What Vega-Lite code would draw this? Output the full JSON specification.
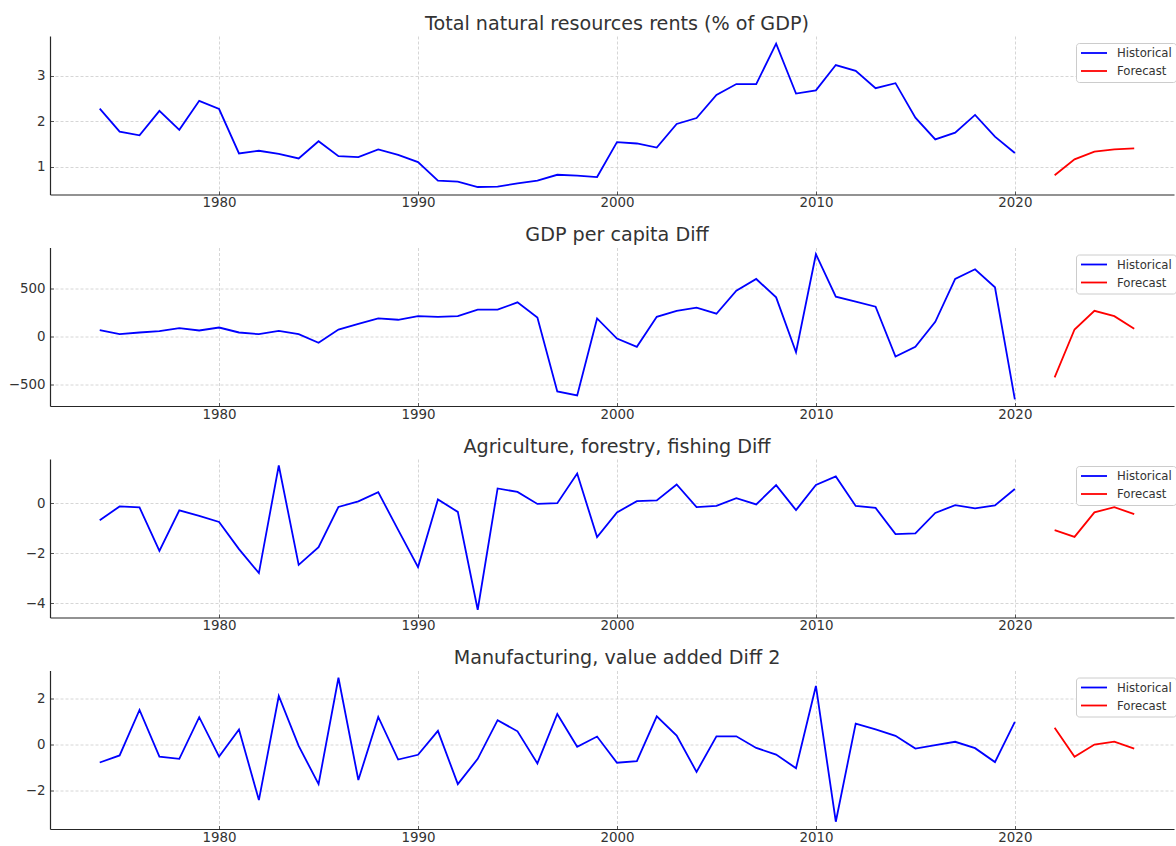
{
  "$schema": "https://vega.github.io/schema/vega-lite/v6.json",
  "padding": {"left": 8, "top": 14, "right": 0, "bottom": 0},
  "background": "white",
  "spacing": 52.5,
  "bounds": "flush",
  "resolve": {"legend": {"color": "independent"}},
  "config": {
    "view": {"stroke": null},
    "font": "DejaVu Sans",
    "axis": {
      "labelFont": "DejaVu Sans",
      "labelFontSize": 13.4,
      "labelColor": "#333333",
      "labelPadding": 8.5,
      "ticks": true,
      "tickSize": -3.5,
      "tickColor": "#555555",
      "tickWidth": 1,
      "domainColor": "#262626",
      "domainWidth": 1.2,
      "gridColor": "#cccccc",
      "gridDash": [3, 2],
      "gridWidth": 0.8,
      "title": null
    },
    "axisX": {"labelPadding": 4.8},
    "title": {
      "font": "DejaVu Sans",
      "fontSize": 19.15,
      "fontWeight": "normal",
      "color": "#333333",
      "anchor": "middle",
      "offset": 2,
      "dx": 5
    },
    "legend": {
      "orient": "none",
      "legendX": 1026,
      "legendY": 7,
      "title": null,
      "labelFont": "DejaVu Sans",
      "labelFontSize": 11.7,
      "labelColor": "#333333",
      "symbolType": "M-2.6,0H2.6",
      "symbolSize": 100,
      "symbolOffset": 8,
      "labelOffset": 17,
      "symbolStrokeWidth": 2,
      "strokeColor": "#cccccc",
      "fillColor": "white",
      "cornerRadius": 3,
      "padding": 4,
      "rowPadding": 5
    },
    "line": {"strokeWidth": 1.8}
  },
  "datasets": {
    "p1": [
      {"year": 1974, "value": 2.28, "series": "Historical"},
      {"year": 1975, "value": 1.77, "series": "Historical"},
      {"year": 1976, "value": 1.69, "series": "Historical"},
      {"year": 1977, "value": 2.23, "series": "Historical"},
      {"year": 1978, "value": 1.81, "series": "Historical"},
      {"year": 1979, "value": 2.45, "series": "Historical"},
      {"year": 1980, "value": 2.27, "series": "Historical"},
      {"year": 1981, "value": 1.29, "series": "Historical"},
      {"year": 1982, "value": 1.35, "series": "Historical"},
      {"year": 1983, "value": 1.28, "series": "Historical"},
      {"year": 1984, "value": 1.18, "series": "Historical"},
      {"year": 1985, "value": 1.56, "series": "Historical"},
      {"year": 1986, "value": 1.23, "series": "Historical"},
      {"year": 1987, "value": 1.21, "series": "Historical"},
      {"year": 1988, "value": 1.38, "series": "Historical"},
      {"year": 1989, "value": 1.26, "series": "Historical"},
      {"year": 1990, "value": 1.10, "series": "Historical"},
      {"year": 1991, "value": 0.69, "series": "Historical"},
      {"year": 1992, "value": 0.67, "series": "Historical"},
      {"year": 1993, "value": 0.55, "series": "Historical"},
      {"year": 1994, "value": 0.56, "series": "Historical"},
      {"year": 1995, "value": 0.63, "series": "Historical"},
      {"year": 1996, "value": 0.69, "series": "Historical"},
      {"year": 1997, "value": 0.82, "series": "Historical"},
      {"year": 1998, "value": 0.80, "series": "Historical"},
      {"year": 1999, "value": 0.77, "series": "Historical"},
      {"year": 2000, "value": 1.54, "series": "Historical"},
      {"year": 2001, "value": 1.51, "series": "Historical"},
      {"year": 2002, "value": 1.42, "series": "Historical"},
      {"year": 2003, "value": 1.94, "series": "Historical"},
      {"year": 2004, "value": 2.07, "series": "Historical"},
      {"year": 2005, "value": 2.58, "series": "Historical"},
      {"year": 2006, "value": 2.82, "series": "Historical"},
      {"year": 2007, "value": 2.82, "series": "Historical"},
      {"year": 2008, "value": 3.71, "series": "Historical"},
      {"year": 2009, "value": 2.61, "series": "Historical"},
      {"year": 2010, "value": 2.68, "series": "Historical"},
      {"year": 2011, "value": 3.24, "series": "Historical"},
      {"year": 2012, "value": 3.11, "series": "Historical"},
      {"year": 2013, "value": 2.73, "series": "Historical"},
      {"year": 2014, "value": 2.84, "series": "Historical"},
      {"year": 2015, "value": 2.08, "series": "Historical"},
      {"year": 2016, "value": 1.60, "series": "Historical"},
      {"year": 2017, "value": 1.75, "series": "Historical"},
      {"year": 2018, "value": 2.14, "series": "Historical"},
      {"year": 2019, "value": 1.66, "series": "Historical"},
      {"year": 2020, "value": 1.30, "series": "Historical"},
      {"year": 2022, "value": 0.81, "series": "Forecast"},
      {"year": 2023, "value": 1.16, "series": "Forecast"},
      {"year": 2024, "value": 1.33, "series": "Forecast"},
      {"year": 2025, "value": 1.38, "series": "Forecast"},
      {"year": 2026, "value": 1.40, "series": "Forecast"}
    ],
    "p2": [
      {"year": 1974, "value": 66, "series": "Historical"},
      {"year": 1975, "value": 24, "series": "Historical"},
      {"year": 1976, "value": 42, "series": "Historical"},
      {"year": 1977, "value": 56, "series": "Historical"},
      {"year": 1978, "value": 87, "series": "Historical"},
      {"year": 1979, "value": 63, "series": "Historical"},
      {"year": 1980, "value": 94, "series": "Historical"},
      {"year": 1981, "value": 42, "series": "Historical"},
      {"year": 1982, "value": 24, "series": "Historical"},
      {"year": 1983, "value": 59, "series": "Historical"},
      {"year": 1984, "value": 24, "series": "Historical"},
      {"year": 1985, "value": -66, "series": "Historical"},
      {"year": 1986, "value": 73, "series": "Historical"},
      {"year": 1987, "value": 133, "series": "Historical"},
      {"year": 1988, "value": 189, "series": "Historical"},
      {"year": 1989, "value": 175, "series": "Historical"},
      {"year": 1990, "value": 213, "series": "Historical"},
      {"year": 1991, "value": 206, "series": "Historical"},
      {"year": 1992, "value": 213, "series": "Historical"},
      {"year": 1993, "value": 280, "series": "Historical"},
      {"year": 1994, "value": 280, "series": "Historical"},
      {"year": 1995, "value": 357, "series": "Historical"},
      {"year": 1996, "value": 199, "series": "Historical"},
      {"year": 1997, "value": -574, "series": "Historical"},
      {"year": 1998, "value": -616, "series": "Historical"},
      {"year": 1999, "value": 189, "series": "Historical"},
      {"year": 2000, "value": -21, "series": "Historical"},
      {"year": 2001, "value": -108, "series": "Historical"},
      {"year": 2002, "value": 206, "series": "Historical"},
      {"year": 2003, "value": 269, "series": "Historical"},
      {"year": 2004, "value": 301, "series": "Historical"},
      {"year": 2005, "value": 238, "series": "Historical"},
      {"year": 2006, "value": 479, "series": "Historical"},
      {"year": 2007, "value": 601, "series": "Historical"},
      {"year": 2008, "value": 409, "series": "Historical"},
      {"year": 2009, "value": -164, "series": "Historical"},
      {"year": 2010, "value": 860, "series": "Historical"},
      {"year": 2011, "value": 416, "series": "Historical"},
      {"year": 2012, "value": 364, "series": "Historical"},
      {"year": 2013, "value": 311, "series": "Historical"},
      {"year": 2014, "value": -210, "series": "Historical"},
      {"year": 2015, "value": -108, "series": "Historical"},
      {"year": 2016, "value": 154, "series": "Historical"},
      {"year": 2017, "value": 601, "series": "Historical"},
      {"year": 2018, "value": 703, "series": "Historical"},
      {"year": 2019, "value": 514, "series": "Historical"},
      {"year": 2020, "value": -657, "series": "Historical"},
      {"year": 2022, "value": -427, "series": "Forecast"},
      {"year": 2023, "value": 73, "series": "Forecast"},
      {"year": 2024, "value": 269, "series": "Forecast"},
      {"year": 2025, "value": 213, "series": "Forecast"},
      {"year": 2026, "value": 80, "series": "Forecast"}
    ],
    "p3": [
      {"year": 1974, "value": -0.68, "series": "Historical"},
      {"year": 1975, "value": -0.13, "series": "Historical"},
      {"year": 1976, "value": -0.17, "series": "Historical"},
      {"year": 1977, "value": -1.91, "series": "Historical"},
      {"year": 1978, "value": -0.29, "series": "Historical"},
      {"year": 1979, "value": -0.51, "series": "Historical"},
      {"year": 1980, "value": -0.75, "series": "Historical"},
      {"year": 1981, "value": -1.84, "series": "Historical"},
      {"year": 1982, "value": -2.80, "series": "Historical"},
      {"year": 1983, "value": 1.51, "series": "Historical"},
      {"year": 1984, "value": -2.47, "series": "Historical"},
      {"year": 1985, "value": -1.76, "series": "Historical"},
      {"year": 1986, "value": -0.15, "series": "Historical"},
      {"year": 1987, "value": 0.07, "series": "Historical"},
      {"year": 1988, "value": 0.44, "series": "Historical"},
      {"year": 1989, "value": -1.07, "series": "Historical"},
      {"year": 1990, "value": -2.56, "series": "Historical"},
      {"year": 1991, "value": 0.15, "series": "Historical"},
      {"year": 1992, "value": -0.35, "series": "Historical"},
      {"year": 1993, "value": -4.27, "series": "Historical"},
      {"year": 1994, "value": 0.59, "series": "Historical"},
      {"year": 1995, "value": 0.45, "series": "Historical"},
      {"year": 1996, "value": -0.03, "series": "Historical"},
      {"year": 1997, "value": 0.00, "series": "Historical"},
      {"year": 1998, "value": 1.19, "series": "Historical"},
      {"year": 1999, "value": -1.36, "series": "Historical"},
      {"year": 2000, "value": -0.37, "series": "Historical"},
      {"year": 2001, "value": 0.08, "series": "Historical"},
      {"year": 2002, "value": 0.11, "series": "Historical"},
      {"year": 2003, "value": 0.75, "series": "Historical"},
      {"year": 2004, "value": -0.16, "series": "Historical"},
      {"year": 2005, "value": -0.11, "series": "Historical"},
      {"year": 2006, "value": 0.20, "series": "Historical"},
      {"year": 2007, "value": -0.05, "series": "Historical"},
      {"year": 2008, "value": 0.72, "series": "Historical"},
      {"year": 2009, "value": -0.28, "series": "Historical"},
      {"year": 2010, "value": 0.73, "series": "Historical"},
      {"year": 2011, "value": 1.07, "series": "Historical"},
      {"year": 2012, "value": -0.11, "series": "Historical"},
      {"year": 2013, "value": -0.19, "series": "Historical"},
      {"year": 2014, "value": -1.24, "series": "Historical"},
      {"year": 2015, "value": -1.21, "series": "Historical"},
      {"year": 2016, "value": -0.39, "series": "Historical"},
      {"year": 2017, "value": -0.08, "series": "Historical"},
      {"year": 2018, "value": -0.21, "series": "Historical"},
      {"year": 2019, "value": -0.09, "series": "Historical"},
      {"year": 2020, "value": 0.57, "series": "Historical"},
      {"year": 2022, "value": -1.08, "series": "Forecast"},
      {"year": 2023, "value": -1.35, "series": "Forecast"},
      {"year": 2024, "value": -0.37, "series": "Forecast"},
      {"year": 2025, "value": -0.16, "series": "Forecast"},
      {"year": 2026, "value": -0.44, "series": "Forecast"}
    ],
    "p4": [
      {"year": 1974, "value": -0.79, "series": "Historical"},
      {"year": 1975, "value": -0.48, "series": "Historical"},
      {"year": 1976, "value": 1.52, "series": "Historical"},
      {"year": 1977, "value": -0.53, "series": "Historical"},
      {"year": 1978, "value": -0.63, "series": "Historical"},
      {"year": 1979, "value": 1.20, "series": "Historical"},
      {"year": 1980, "value": -0.53, "series": "Historical"},
      {"year": 1981, "value": 0.66, "series": "Historical"},
      {"year": 1982, "value": -2.44, "series": "Historical"},
      {"year": 1983, "value": 2.13, "series": "Historical"},
      {"year": 1984, "value": -0.06, "series": "Historical"},
      {"year": 1985, "value": -1.74, "series": "Historical"},
      {"year": 1986, "value": 2.93, "series": "Historical"},
      {"year": 1987, "value": -1.56, "series": "Historical"},
      {"year": 1988, "value": 1.21, "series": "Historical"},
      {"year": 1989, "value": -0.66, "series": "Historical"},
      {"year": 1990, "value": -0.45, "series": "Historical"},
      {"year": 1991, "value": 0.60, "series": "Historical"},
      {"year": 1992, "value": -1.74, "series": "Historical"},
      {"year": 1993, "value": -0.63, "series": "Historical"},
      {"year": 1994, "value": 1.07, "series": "Historical"},
      {"year": 1995, "value": 0.58, "series": "Historical"},
      {"year": 1996, "value": -0.83, "series": "Historical"},
      {"year": 1997, "value": 1.34, "series": "Historical"},
      {"year": 1998, "value": -0.10, "series": "Historical"},
      {"year": 1999, "value": 0.35, "series": "Historical"},
      {"year": 2000, "value": -0.80, "series": "Historical"},
      {"year": 2001, "value": -0.73, "series": "Historical"},
      {"year": 2002, "value": 1.24, "series": "Historical"},
      {"year": 2003, "value": 0.39, "series": "Historical"},
      {"year": 2004, "value": -1.20, "series": "Historical"},
      {"year": 2005, "value": 0.36, "series": "Historical"},
      {"year": 2006, "value": 0.36, "series": "Historical"},
      {"year": 2007, "value": -0.15, "series": "Historical"},
      {"year": 2008, "value": -0.44, "series": "Historical"},
      {"year": 2009, "value": -1.04, "series": "Historical"},
      {"year": 2010, "value": 2.57, "series": "Historical"},
      {"year": 2011, "value": -3.39, "series": "Historical"},
      {"year": 2012, "value": 0.92, "series": "Historical"},
      {"year": 2013, "value": 0.66, "series": "Historical"},
      {"year": 2014, "value": 0.38, "series": "Historical"},
      {"year": 2015, "value": -0.18, "series": "Historical"},
      {"year": 2016, "value": -0.03, "series": "Historical"},
      {"year": 2017, "value": 0.12, "series": "Historical"},
      {"year": 2018, "value": -0.16, "series": "Historical"},
      {"year": 2019, "value": -0.77, "series": "Historical"},
      {"year": 2020, "value": 0.99, "series": "Historical"},
      {"year": 2022, "value": 0.74, "series": "Forecast"},
      {"year": 2023, "value": -0.54, "series": "Forecast"},
      {"year": 2024, "value": 0.00, "series": "Forecast"},
      {"year": 2025, "value": 0.13, "series": "Forecast"},
      {"year": 2026, "value": -0.18, "series": "Forecast"}
    ]
  },
  "vconcat": [
    {
      "title": "Total natural resources rents (% of GDP)",
      "width": 1124,
      "height": 158.5,
      "data": {"name": "p1"},
      "mark": {"type": "line"},
      "encoding": {
        "x": {"field": "year", "type": "quantitative", "scale": {"domain": [1971.5, 2028.0], "nice": false, "zero": false}, "axis": {"values": [1980, 1990, 2000, 2010, 2020], "format": "d"}},
        "y": {"field": "value", "type": "quantitative", "scale": {"domain": [0.385, 3.88], "nice": false, "zero": false}, "axis": {"values": [1, 2, 3]}},
        "color": {"field": "series", "type": "nominal", "scale": {"domain": ["Historical", "Forecast"], "range": ["#0000ff", "#ff0000"]}, "sort": null}
      }
    },
    {
      "title": "GDP per capita Diff",
      "width": 1124,
      "height": 158.5,
      "data": {"name": "p2"},
      "mark": {"type": "line"},
      "encoding": {
        "x": {"field": "year", "type": "quantitative", "scale": {"domain": [1971.5, 2028.0], "nice": false, "zero": false}, "axis": {"values": [1980, 1990, 2000, 2010, 2020], "format": "d"}},
        "y": {"field": "value", "type": "quantitative", "scale": {"domain": [-726, 930], "nice": false, "zero": false}, "axis": {"values": [-500, 0, 500]}},
        "color": {"field": "series", "type": "nominal", "scale": {"domain": ["Historical", "Forecast"], "range": ["#0000ff", "#ff0000"]}, "sort": null}
      }
    },
    {
      "title": "Agriculture, forestry, fishing Diff",
      "width": 1124,
      "height": 158.5,
      "data": {"name": "p3"},
      "mark": {"type": "line"},
      "encoding": {
        "x": {"field": "year", "type": "quantitative", "scale": {"domain": [1971.5, 2028.0], "nice": false, "zero": false}, "axis": {"values": [1980, 1990, 2000, 2010, 2020], "format": "d"}},
        "y": {"field": "value", "type": "quantitative", "scale": {"domain": [-4.58, 1.77], "nice": false, "zero": false}, "axis": {"values": [-4, -2, 0]}},
        "color": {"field": "series", "type": "nominal", "scale": {"domain": ["Historical", "Forecast"], "range": ["#0000ff", "#ff0000"]}, "sort": null}
      }
    },
    {
      "title": "Manufacturing, value added Diff 2",
      "width": 1124,
      "height": 158.5,
      "data": {"name": "p4"},
      "mark": {"type": "line"},
      "encoding": {
        "x": {"field": "year", "type": "quantitative", "scale": {"domain": [1971.5, 2028.0], "nice": false, "zero": false}, "axis": {"values": [1980, 1990, 2000, 2010, 2020], "format": "d"}},
        "y": {"field": "value", "type": "quantitative", "scale": {"domain": [-3.71, 3.25], "nice": false, "zero": false}, "axis": {"values": [-2, 0, 2]}},
        "color": {"field": "series", "type": "nominal", "scale": {"domain": ["Historical", "Forecast"], "range": ["#0000ff", "#ff0000"]}, "sort": null}
      }
    }
  ]
}
